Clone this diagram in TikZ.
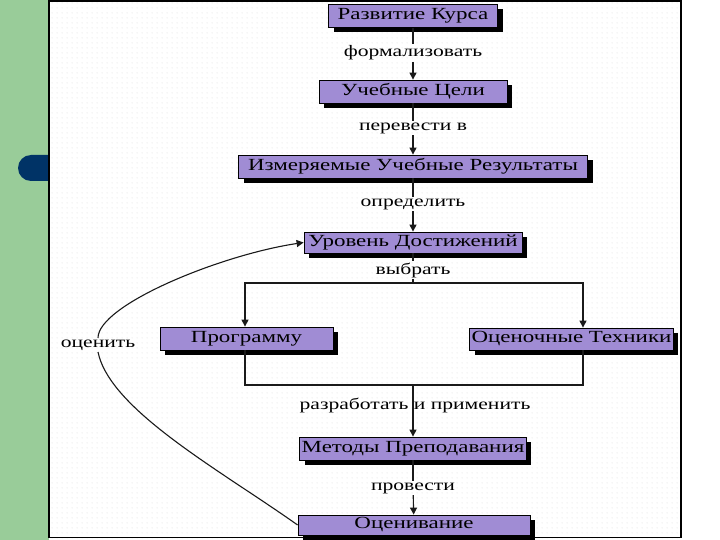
\documentclass[tikz,border=0pt]{standalone}
\usepackage{fontspec}
\setmainfont{Liberation Serif}[FakeStretch=1.35]
\usetikzlibrary{arrows.meta,shadows,patterns.meta}
\definecolor{stripc}{HTML}{99CC99}
\definecolor{tabc}{HTML}{003366}
\definecolor{stagec}{HTML}{A08CD4}
\definecolor{linec}{HTML}{1A1A1A}
\tikzdeclarepattern{name=griddots, type=uncolored,
  bounding box={(0pt,0pt) and (5pt,5pt)}, tile size={(5pt,5pt)},
  code={\fill (2.5pt,2.5pt) circle (0.45pt);}}
\tikzset{
  stage/.style={draw=black, fill=stagec, line width=0.8pt, minimum height=23pt, inner sep=2pt,
    font=\fontsize{17}{17}\selectfont,
    drop shadow={shadow xshift=5pt, shadow yshift=-5pt, fill=black, opacity=1}},
  verb/.style={inner sep=1.5pt, font=\fontsize{16}{16}\selectfont},
  flow/.style={draw=linec, line width=1.1pt},
  tip/.style={-{Triangle[width=7pt,length=7pt]}},
}

\begin{document}
\begin{tikzpicture}[x=1pt,y=-1pt]
\useasboundingbox (0,0) rectangle (720,540);
\fill[stripc] (0,0) rectangle (49,540);
\fill[tabc, rounded corners=13pt] (18,155) rectangle (62,181);
\fill[white] (49,0) rectangle (720,540);
\fill[pattern=griddots, pattern color=black!28] (49,0) rectangle (681,538);
\draw[black, line width=1.6pt] (49,0.8) rectangle (681,537.5);

\node[stage, minimum width=169pt] (course) at (413,16) {Развитие Курса};
\node[stage, minimum width=188pt] (goals) at (413,91.5) {Учебные Цели};
\node[stage, minimum width=349pt] (outcomes) at (413,166.5) {Измеряемые Учебные Результаты};
\node[stage, minimum width=218pt, minimum height=21pt] (level) at (413,242.5) {Уровень Достижений};
\node[stage, minimum width=173pt] (program) at (246.5,338.5) {Программу};
\node[stage, minimum width=203pt, minimum height=22pt] (techniques) at (571.5,339) {Оценочные Техники};
\node[stage, minimum width=223pt] (methods) at (413,448.5) {Методы Преподавания};
\node[stage, minimum width=232pt, minimum height=20pt] (assess) at (414,525) {Оценивание};

\node[verb] (formalize) at (413,53) {формализовать};
\node[verb] (translate) at (413,128) {перевести в};
\node[verb] (define) at (413,204) {определить};
\node[verb] (choose) at (413,270) {выбрать};
\node[verb] (develop) at (415,405) {разработать и применить};
\node[verb] (conduct) at (413,488) {провести};
\node[verb] (evaluate) at (98,345) {оценить};

\coordinate (fork) at (413,283);
\coordinate (forkL) at (245,283);
\coordinate (forkR) at (583,283);
\coordinate (join) at (413,385);
\coordinate (joinL) at (245,385);
\coordinate (joinR) at (583,385);

\draw[flow] (course) -- (formalize);
\draw[flow,tip] (formalize) -- (goals);
\draw[flow] (goals) -- (translate);
\draw[flow,tip] (translate) -- (outcomes);
\draw[flow] (outcomes) -- (define);
\draw[flow,tip] (define) -- (level);
\draw[flow] (level) -- (choose);
\draw[flow] (choose) -- (fork);
\draw[flow,tip] (forkL) -- (forkR) -- (forkR |- techniques.north);
\draw[flow,tip] (forkR) -- (forkL) -- (forkL |- program.north);
\draw[flow] (forkL |- program.south) -- (joinL) -- (joinR) -- (forkR |- techniques.south);
\draw[flow,tip] (join) -- (methods);
\draw[flow] (methods) -- (conduct);
\draw[flow,tip] (conduct) -- (assess);
\draw[flow] (assess.west) .. controls (220,470) and (110,410) .. (evaluate.south);
\draw[flow,tip] (evaluate.north) .. controls (98,305) and (220,255) .. (level.west);
\end{tikzpicture}
\end{document}
